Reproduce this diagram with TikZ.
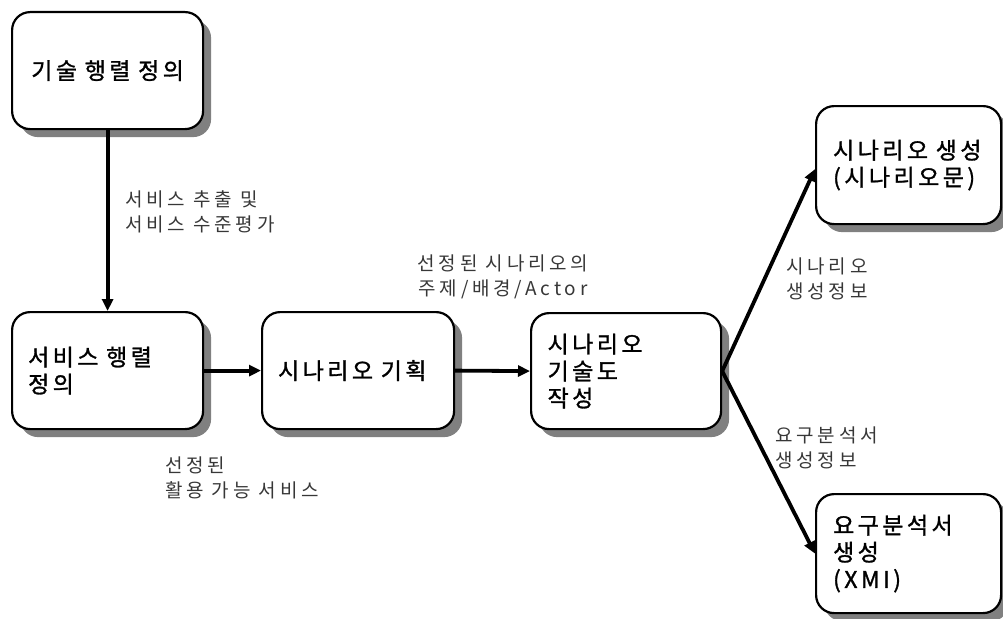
\documentclass[tikz,border=0pt]{standalone}
\usepackage{fontspec}
\usetikzlibrary{arrows.meta,shadows,calc}
\newfontfamily\krbox[LetterSpace=15,FakeBold=1.2]{Noto Sans CJK KR}
\newfontfamily\krlab[LetterSpace=20]{Noto Sans CJK KR}
\definecolor{shade}{RGB}{128,128,128}
\definecolor{labgray}{RGB}{55,55,55}
\begin{document}
\begin{tikzpicture}[x=1pt,y=-1pt,
 box/.style={draw=black, line width=2.2pt, rounded corners=18pt, fill=white,
   drop shadow={shadow xshift=8pt, shadow yshift=-8pt, fill=shade, opacity=1},
   anchor=north west, inner xsep=16pt, inner ysep=0pt, align=left,
   font=\krbox\fontsize{23}{27}\selectfont},
 lab/.style={inner sep=0pt, align=left, text=labgray, anchor=west,
   font=\krlab\fontsize{19}{25}\selectfont},
 conn/.style={line width=3.8pt, -{Triangle[length=12pt,width=11pt]}}
]
\useasboundingbox (0,0) rectangle (1003,618);

\node[box, minimum width=191pt, minimum height=117pt, text width=159pt, align=center] (b1) at (11,11) {\mbox{기술 행렬 정의}};
\node[box, minimum width=191pt, minimum height=117pt, text width=159pt] (b2) at (11,311) {\mbox{서비스 행렬}\\\mbox{정의}};
\node[box, minimum width=192pt, minimum height=117pt, text width=160pt] (b3) at (261,311) {\mbox{시나리오 기획}};
\node[box, minimum width=190pt, minimum height=116pt, text width=157pt] (b4) at (530,312) {\mbox{시나리오}\\\mbox{기술도}\\\mbox{작성}};
\node[box, minimum width=185pt, minimum height=118pt, text width=151pt, inner xsep=17pt] (b5) at (815,105) {\mbox{시나리오 생성}\\\mbox{(시나리오문)}};
\node[box, minimum width=185pt, minimum height=119pt, text width=151pt, inner xsep=17pt] (b6) at (815,493) {\mbox{요구분석서}\\\mbox{생성}\\\mbox{(XMI)}};

\node[lab] (l1) at (125,211.5) {서비스 추출 및\\서비스 수준평가};
\node[lab, align=center, anchor=center] (l2) at (503,276.5) {선정된 시나리오의\\주제/배경/Actor};
\node[lab] (l3) at (786,279) {시나리오\\생성정보};
\node[lab] (l4) at (775,447.5) {요구분석서\\생성정보};
\node[lab] (l5) at (165,477.5) {선정된\\활용 가능 서비스};

\draw[conn] (b1.south) -- (b2.north);
\draw[conn] (b2.east) -- (b3.west);
\draw[conn] (b3.east) -- (b4.west);
\coordinate (br) at (b4.east);
\draw[conn] (br) -- ([yshift=-4pt]b5.west);
\draw[conn] (br) -- (b6.west);
\end{tikzpicture}
\end{document}
